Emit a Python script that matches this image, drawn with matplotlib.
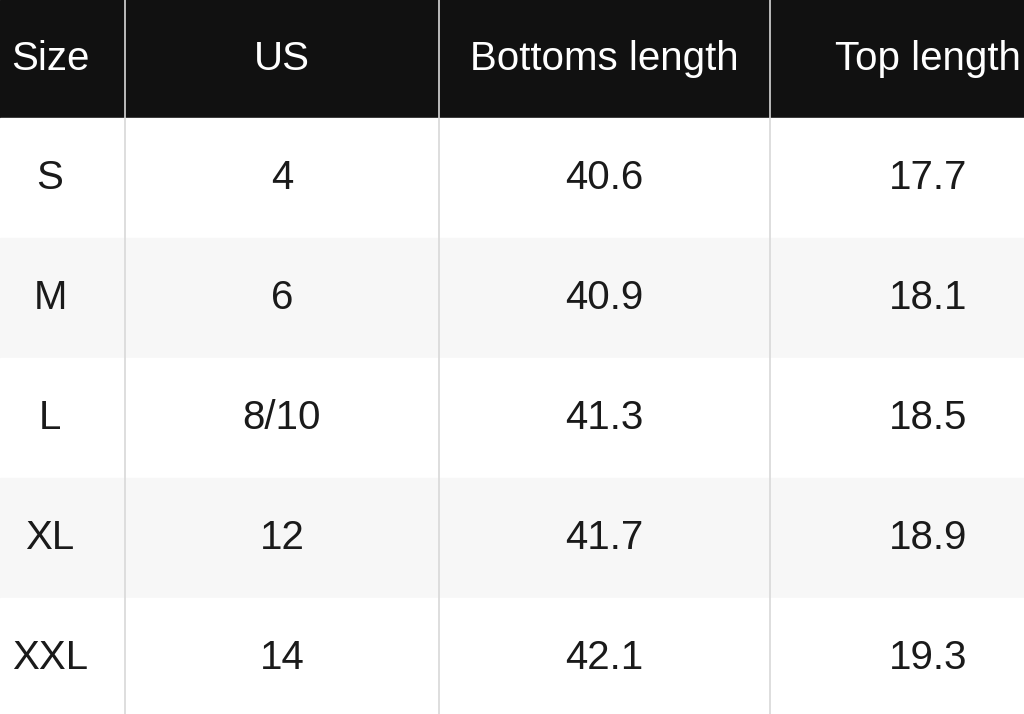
import matplotlib.pyplot as plt
from matplotlib.patches import Rectangle

headers = ["Size", "US", "Bottoms length", "Top length"]
sizes = ["S", "M", "L", "XL", "XXL"]
us = ["4", "6", "8/10", "12", "14"]
bottoms = ["40.6", "40.9", "41.3", "41.7", "42.1"]
tops = ["17.7", "18.1", "18.5", "18.9", "19.3"]

col_centers = [50, 282, 604, 928]
col_lines = [125, 439, 770]
header_h = 118
row_h = 120

fig = plt.figure(figsize=(10.24, 7.14), dpi=100)
ax = fig.add_axes([0, 0, 1, 1])
ax.set_xlim(0, 1024)
ax.set_ylim(714, 0)
ax.axis("off")

plt.rcParams["font.family"] = ["Liberation Sans", "DejaVu Sans"]

ax.add_patch(Rectangle((0, 0), 1024, header_h, color="#111111"))
for i, h in enumerate(headers):
    ax.text(col_centers[i], header_h / 2, h, color="white", fontsize=29,
            ha="center", va="center")

rows = list(zip(sizes, us, bottoms, tops))
for r, row in enumerate(rows):
    y0 = header_h + r * row_h
    ax.add_patch(Rectangle((0, y0), 1024, row_h,
                           color="white" if r % 2 == 0 else "#f7f7f7"))
    for i, val in enumerate(row):
        ax.text(col_centers[i], y0 + row_h / 2, val, color="#1a1a1a",
                fontsize=29, ha="center", va="center")

for x in col_lines:
    ax.plot([x, x], [0, 714], color="#d8d8d8", lw=1.2)

fig.savefig("out.png", dpi=100)
